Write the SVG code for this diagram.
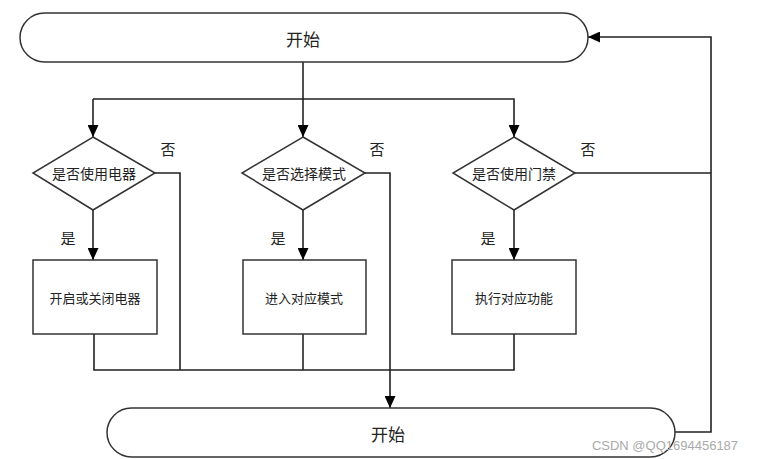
<svg xmlns="http://www.w3.org/2000/svg" width="759" height="459" viewBox="0 0 759 459">
<defs>
<marker id="arr" viewBox="0 0 12 11" refX="12" refY="5.5" markerWidth="12" markerHeight="11" markerUnits="userSpaceOnUse" orient="auto">
<path d="M0,0 L12,5.5 L0,11 z" fill="#000"/>
</marker>
</defs>
<style>
.shape{fill:#fff;stroke:#333;stroke-width:1.5}
.line{fill:none;stroke:#222;stroke-width:1.6}
.arrow{marker-end:url(#arr)}
text{font-family:"Noto Sans CJK SC","Liberation Sans",sans-serif;fill:#222;text-anchor:middle;dominant-baseline:central}
.big{font-size:17px}
.mid{font-size:14px}
.lbl{font-size:15px}
.small{font-size:13px}
.wm{font-family:"Liberation Sans",sans-serif;font-size:13px;fill:#aaa}
</style>
<rect width="759" height="459" fill="#fff"/>
<g id="connectors">
<path class="line arrow" d="M303,62 V137"/>
<path class="line arrow" d="M93,99 H514 V137"/>
<path class="line arrow" d="M93,99 V137"/>
<path class="line arrow" d="M93,210 V260"/>
<path class="line arrow" d="M303,210 V260"/>
<path class="line arrow" d="M514,210 V260"/>
<path class="line" d="M155,173 H180 V370"/>
<path class="line" d="M94,334 V370 H514 V334"/>
<path class="line" d="M303,334 V370"/>
<path class="line arrow" d="M365,173 H390 V408"/>
<path class="line" d="M575,173 H711"/>
<path class="line arrow" d="M675,432 H711 V37 H588"/>
</g>
<g id="start-top">
<rect class="shape" x="20" y="13" width="568" height="49" rx="24.5" ry="24.5"/>
<text class="big" x="303" y="38">开始</text>
</g>
<g id="d1">
<polygon class="shape" points="93,137 155,173 93,210 33,173"/>
<text class="mid" x="94" y="173">是否使用电器</text>
</g>
<g id="d2">
<polygon class="shape" points="303,137 365,173 303,210 242,173"/>
<text class="mid" x="304" y="173">是否选择模式</text>
</g>
<g id="d3">
<polygon class="shape" points="514,137 575,173 514,210 453,173"/>
<text class="mid" x="514" y="173">是否使用门禁</text>
</g>
<g id="labels">
<text class="lbl" x="168" y="148">否</text>
<text class="lbl" x="377" y="148">否</text>
<text class="lbl" x="588" y="148">否</text>
<text class="lbl" x="68" y="237">是</text>
<text class="lbl" x="278" y="237">是</text>
<text class="lbl" x="488" y="237">是</text>
</g>
<g id="r1">
<rect class="shape" x="33" y="260" width="124" height="74"/>
<text class="small" x="95" y="297">开启或关闭电器</text>
</g>
<g id="r2">
<rect class="shape" x="243" y="260" width="123" height="74"/>
<text class="small" x="304" y="297">进入对应模式</text>
</g>
<g id="r3">
<rect class="shape" x="452" y="260" width="124" height="74"/>
<text class="small" x="514" y="297">执行对应功能</text>
</g>
<g id="start-bottom">
<rect class="shape" x="107" y="408" width="568" height="49" rx="24.5" ry="24.5"/>
<text class="big" x="388" y="433">开始</text>
</g>
<text class="wm" x="665" y="445">CSDN @QQ1694456187</text>
</svg>
